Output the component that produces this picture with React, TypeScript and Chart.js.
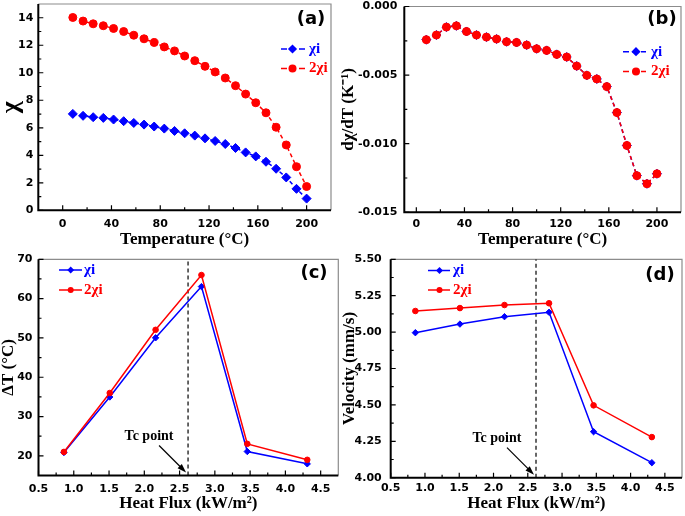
import React, { useEffect, useRef } from "react";
import { Chart, registerables } from "chart.js";

Chart.register(...registerables);

// ---------------- data ----------------
const temperatureC = [8.3, 16.7, 25, 33.3, 41.7, 50, 58.3, 66.7, 75, 83.3, 91.7, 100, 108.3, 116.7, 125, 133.3, 141.7, 150, 158.3, 166.7, 175, 183.3, 191.7, 200];
const chiI = [7.01, 6.87, 6.77, 6.72, 6.6, 6.48, 6.35, 6.23, 6.09, 5.94, 5.77, 5.6, 5.43, 5.23, 5.04, 4.82, 4.53, 4.21, 3.92, 3.53, 3.02, 2.39, 1.56, 0.85];
const chi2I = [14.02, 13.76, 13.56, 13.42, 13.22, 13.0, 12.73, 12.47, 12.2, 11.88, 11.59, 11.22, 10.88, 10.47, 10.06, 9.62, 9.06, 8.45, 7.82, 7.09, 6.04, 4.75, 3.17, 1.73];
const dChiDT = [-0.00242, -0.00208, -0.0015, -0.00141, -0.00182, -0.00208, -0.00223, -0.00237, -0.00257, -0.00262, -0.00281, -0.00308, -0.0032, -0.00349, -0.00368, -0.00434, -0.00502, -0.00528, -0.00584, -0.00773, -0.01013, -0.01233, -0.01292, -0.01219];
const dChi2DT = [-0.00242, -0.00208, -0.0015, -0.00141, -0.00182, -0.00208, -0.00223, -0.00237, -0.00257, -0.00262, -0.00281, -0.00308, -0.0032, -0.00349, -0.00368, -0.00434, -0.00502, -0.00528, -0.00584, -0.00773, -0.01013, -0.01233, -0.01292, -0.01219];

const heatFlux = [0.86, 1.51, 2.16, 2.81, 3.46, 4.31];
const deltaTChi = [20.85, 34.97, 50.03, 63.06, 21.1, 17.97];
const deltaTChi2 = [21.0, 35.99, 52.06, 66.0, 23.05, 18.99];
const velocityChi = [4.996, 5.055, 5.106, 5.136, 4.316, 4.103];
const velocityChi2 = [5.145, 5.165, 5.186, 5.198, 4.497, 4.279];
const tcFlux = 2.62;

const tempTicks = [0, 40, 80, 120, 160, 200];
const chiTicks = [0, 2, 4, 6, 8, 10, 12, 14];
const dChiTicks = [-0.015, -0.01, -0.005, 0];
const fluxTicks = [0.5, 1.0, 1.5, 2.0, 2.5, 3.0, 3.5, 4.0, 4.5];
const deltaTTicks = [20, 30, 40, 50, 60, 70];
const velocityTicks = [4.0, 4.25, 4.5, 4.75, 5.0, 5.25, 5.5];

const seriesLabels = ["χi", "2χi"];

// ---------------- layout ----------------
const OFF = 20;
const CW = 685 + 2 * OFF;
const CH = 516 + 2 * OFF;
const BLUE = "#0000ff";
const RED = "#ff0000";
const SERIF = '"Liberation Serif", "Times New Roman", serif';
const SANS = '"DejaVu Sans", Verdana, sans-serif';

const pts = (xs: number[], ys: number[]) => xs.map((x, i) => ({ x, y: ys[i] }));

function seriesDs(label: string, xs: number[], ys: number[], color: string, style: string, dashed: boolean, r: number, order: number) {
  return {
    label,
    data: pts(xs, ys),
    borderColor: color,
    backgroundColor: color,
    borderWidth: 1.5,
    borderDash: dashed ? [4, 3] : [],
    pointStyle: style,
    pointRadius: r,
    pointBorderWidth: 1,
    pointBorderColor: color,
    pointBackgroundColor: color,
    tension: 0,
    clip: false,
    order,
  };
}

const panels: any[] = [
  {
    id: "a",
    label: "(a)",
    labelPos: [311, 19],
    area: { L: 38.3, R: 331, T: 4, B: 210.3 },
    x: { min: -20, max: 220, ticks: tempTicks, dec: 0, title: "Temperature (°C)", titleCy: 240, titleSize: 17, pad: 7 },
    y: { min: 0, max: 15, ticks: chiTicks, dec: 0, title: "χ", titleCx: 11, titleSize: 26, pad: 5 },
    datasets: [
      seriesDs(seriesLabels[0], temperatureC, chiI, BLUE, "rectRot", true, 4.5, 2),
      seriesDs(seriesLabels[1], temperatureC, chi2I, RED, "circle", true, 4, 1),
    ],
    legend: { x0: 281, x1: 305, xm: 292.5, tx: 309, ys: [49, 68.5], dashed: true, r: 4 },
  },
  {
    id: "b",
    label: "(b)",
    labelPos: [662, 19],
    area: { L: 404.3, R: 681, T: 6.5, B: 212.3 },
    x: { min: -10, max: 220, ticks: tempTicks, dec: 0, title: "Temperature (°C)", titleCy: 240, titleSize: 17, pad: 5.5 },
    y: { min: -0.015, max: 0, ticks: dChiTicks, dec: 3, title: "dχ/dT (K⁻¹)", titleCx: 349, titleSize: 17, pad: 7 },
    datasets: [
      seriesDs(seriesLabels[0], temperatureC, dChiDT, BLUE, "rectRot", true, 4.5, 2),
      seriesDs(seriesLabels[1], temperatureC, dChi2DT, RED, "circle", true, 4, 1),
    ],
    legend: { x0: 623, x1: 646, xm: 636, tx: 651, ys: [51.7, 71.5], dashed: true, r: 4 },
  },
  {
    id: "c",
    label: "(c)",
    labelPos: [314, 273],
    area: { L: 38.5, R: 338.3, T: 259.3, B: 475.5 },
    x: { min: 0.5, max: 4.75, ticks: fluxTicks, dec: 1, title: "Heat Flux (kW/m²)", titleCy: 504, titleSize: 17, pad: 7.5 },
    y: { min: 15, max: 70, ticks: deltaTTicks, dec: 0, title: "ΔT (°C)", titleCx: 9, titleSize: 17, pad: 6 },
    datasets: [
      seriesDs(seriesLabels[0], heatFlux, deltaTChi, BLUE, "rectRot", false, 3.2, 2),
      seriesDs(seriesLabels[1], heatFlux, deltaTChi2, RED, "circle", false, 2.8, 1),
    ],
    legend: { x0: 59, x1: 82, xm: 70.7, tx: 84, ys: [270, 290], dashed: false, r: 3 },
    tc: { yMin: 15, yMax: 70 },
  },
  {
    id: "d",
    label: "(d)",
    labelPos: [660, 275],
    area: { L: 390.7, R: 682, T: 259.3, B: 477.7 },
    x: { min: 0.5, max: 4.75, ticks: fluxTicks, dec: 1, title: "Heat Flux (kW/m²)", titleCy: 504, titleSize: 17, pad: 4 },
    y: { min: 4.0, max: 5.5, ticks: velocityTicks, dec: 2, title: "Velocity (mm/s)", titleCx: 350, titleSize: 17, pad: 9 },
    datasets: [
      seriesDs(seriesLabels[0], heatFlux, velocityChi, BLUE, "rectRot", false, 3.2, 2),
      seriesDs(seriesLabels[1], heatFlux, velocityChi2, RED, "circle", false, 2.8, 1),
    ],
    legend: { x0: 428, x1: 450, xm: 439.5, tx: 453, ys: [270.5, 290], dashed: false, r: 3 },
    tc: { yMin: 4.0, yMax: 5.5 },
  },
];

function minorOf(ticks: number[], min: number, max: number) {
  const step = ticks[1] - ticks[0];
  const out: number[] = [];
  const first = ticks[0] - step / 2;
  if (first > min + 1e-9) out.push(first);
  for (let i = 0; i < ticks.length - 1; i++) out.push((ticks[i] + ticks[i + 1]) / 2);
  const last = ticks[ticks.length - 1] + step / 2;
  if (last < max - 1e-9) out.push(last);
  return out;
}

function drawMarker(ctx: CanvasRenderingContext2D, style: string, x: number, y: number, r: number, color: string) {
  ctx.fillStyle = color;
  ctx.beginPath();
  if (style === "circle") {
    ctx.arc(x, y, r, 0, Math.PI * 2);
  } else {
    const d = r * 1.15;
    ctx.moveTo(x - d, y);
    ctx.lineTo(x, y - d);
    ctx.lineTo(x + d, y);
    ctx.lineTo(x, y + d);
    ctx.closePath();
  }
  ctx.fill();
}

function makePlugin(p: any) {
  return {
    id: "panelDecor",
    beforeDatasetsDraw(chart: any) {
      const { ctx, chartArea: ca } = chart;
      const xs = chart.scales.x;
      const ys = chart.scales.y;
      ctx.save();
      // thin grey top/right frame
      ctx.strokeStyle = "#8c8c8c";
      ctx.lineWidth = 1.2;
      ctx.beginPath();
      ctx.moveTo(ca.left, ca.top);
      ctx.lineTo(ca.right, ca.top);
      ctx.lineTo(ca.right, ca.bottom);
      ctx.stroke();
      // inward ticks
      ctx.strokeStyle = "#000";
      ctx.lineWidth = 1.2;
      ctx.beginPath();
      const xt = (v: number, len: number) => {
        const px = xs.getPixelForValue(v);
        ctx.moveTo(px, ca.bottom);
        ctx.lineTo(px, ca.bottom - len);
      };
      const yt = (v: number, len: number) => {
        const py = ys.getPixelForValue(v);
        ctx.moveTo(ca.left, py);
        ctx.lineTo(ca.left + len, py);
      };
      p.x.ticks.forEach((v: number) => xt(v, 5));
      minorOf(p.x.ticks, p.x.min, p.x.max).forEach((v) => xt(v, 3));
      p.y.ticks.forEach((v: number) => yt(v, 5));
      minorOf(p.y.ticks, p.y.min, p.y.max).forEach((v) => yt(v, 3));
      ctx.stroke();
      // black axes
      ctx.lineWidth = 2;
      ctx.beginPath();
      ctx.moveTo(ca.left, ca.top);
      ctx.lineTo(ca.left, ca.bottom);
      ctx.lineTo(ca.right, ca.bottom);
      ctx.stroke();
      ctx.restore();
    },
    afterDraw(chart: any) {
      const { ctx, chartArea: ca } = chart;
      const xs = chart.scales.x;
      ctx.save();
      // panel label
      ctx.fillStyle = "#000";
      ctx.font = `bold 18px ${SANS}`;
      ctx.textAlign = "center";
      ctx.textBaseline = "middle";
      ctx.fillText(p.label, p.labelPos[0] + OFF, p.labelPos[1] + OFF);
      // legend
      const lg = p.legend;
      p.datasets.forEach((ds: any, i: number) => {
        const y = lg.ys[i] + OFF;
        ctx.strokeStyle = ds.borderColor;
        ctx.lineWidth = 1.5;
        ctx.setLineDash(lg.dashed ? [6, 3] : []);
        ctx.beginPath();
        ctx.moveTo(lg.x0 + OFF, y);
        ctx.lineTo(lg.x1 + OFF, y);
        ctx.stroke();
        ctx.setLineDash([]);
        drawMarker(ctx, ds.pointStyle, lg.xm + OFF, y, lg.r, ds.borderColor);
        ctx.fillStyle = ds.borderColor;
        ctx.font = `bold 15px ${SERIF}`;
        ctx.textAlign = "left";
        ctx.textBaseline = "middle";
        ctx.fillText(ds.label, lg.tx + OFF, y);
      });
      // Tc annotation
      if (p.tc) {
        const ex = xs.getPixelForValue(tcFlux) - 2;
        const ey = ca.bottom - 3;
        const sx = ex - 27;
        const sy = ey - 27;
        ctx.strokeStyle = "#000";
        ctx.fillStyle = "#000";
        ctx.lineWidth = 1.2;
        ctx.beginPath();
        ctx.moveTo(sx, sy);
        ctx.lineTo(ex - 4, ey - 4);
        ctx.stroke();
        const ang = Math.atan2(ey - sy, ex - sx);
        ctx.beginPath();
        ctx.moveTo(ex, ey);
        ctx.lineTo(ex - 9 * Math.cos(ang) + 3 * Math.sin(ang), ey - 9 * Math.sin(ang) - 3 * Math.cos(ang));
        ctx.lineTo(ex - 9 * Math.cos(ang) - 3 * Math.sin(ang), ey - 9 * Math.sin(ang) + 3 * Math.cos(ang));
        ctx.closePath();
        ctx.fill();
        ctx.font = `bold 14px ${SERIF}`;
        ctx.textAlign = "center";
        ctx.textBaseline = "middle";
        ctx.fillText("Tc point", ex - 37, ey - 36);
      }
      ctx.restore();
    },
  };
}

function buildConfig(p: any) {
  const scaleLeft = p.y.titleCx - p.y.titleSize / 2;
  const yW = p.area.L - scaleLeft;
  const scaleBottom = p.x.titleCy + p.x.titleSize / 2;
  const xH = scaleBottom - p.area.B;
  const tickFont = { family: SANS, size: 11, weight: "bold" as const };
  const datasets: any[] = [...p.datasets];
  if (p.tc) {
    datasets.push({
      label: "Tc",
      data: [
        { x: tcFlux, y: p.tc.yMin },
        { x: tcFlux, y: p.tc.yMax },
      ],
      borderColor: "#000",
      borderWidth: 1.2,
      borderDash: [4, 3],
      pointRadius: 0,
      order: 3,
    });
  }
  return {
    type: "line" as const,
    data: { datasets },
    options: {
      responsive: false,
      animation: false,
      devicePixelRatio: 1,
      events: [],
      layout: {
        padding: {
          left: OFF + scaleLeft,
          top: OFF + p.area.T,
          right: CW - OFF - p.area.R,
          bottom: CH - OFF - scaleBottom,
        },
      },
      plugins: { legend: { display: false }, tooltip: { enabled: false } },
      scales: {
        x: {
          type: "linear",
          position: "bottom",
          min: p.x.min,
          max: p.x.max,
          afterBuildTicks: (s: any) => {
            s.ticks = p.x.ticks.map((v: number) => ({ value: v }));
          },
          afterFit: (s: any) => {
            s.height = xH;
          },
          ticks: {
            callback: (v: any) => Number(v).toFixed(p.x.dec),
            font: tickFont,
            color: "#000",
            padding: p.x.pad,
            maxRotation: 0,
            autoSkip: false,
          },
          grid: { display: false, drawTicks: false },
          border: { display: false },
          title: {
            display: true,
            text: p.x.title,
            color: "#000",
            padding: 0,
            font: { family: SERIF, size: p.x.titleSize, weight: "bold" as const, lineHeight: 1 },
          },
        },
        y: {
          type: "linear",
          position: "left",
          min: p.y.min,
          max: p.y.max,
          afterBuildTicks: (s: any) => {
            s.ticks = p.y.ticks.map((v: number) => ({ value: v }));
          },
          afterFit: (s: any) => {
            s.width = yW;
          },
          ticks: {
            callback: (v: any) => Number(v).toFixed(p.y.dec),
            font: tickFont,
            color: "#000",
            padding: p.y.pad,
            autoSkip: false,
          },
          grid: { display: false, drawTicks: false },
          border: { display: false },
          title: {
            display: true,
            text: p.y.title,
            color: "#000",
            padding: 0,
            font: { family: SERIF, size: p.y.titleSize, weight: "bold" as const, lineHeight: 1 },
          },
        },
      },
    },
    plugins: [makePlugin(p)],
  };
}

function PanelChart({ spec }: { spec: any }) {
  const ref = useRef<HTMLCanvasElement>(null);
  useEffect(() => {
    const chart = new Chart(ref.current as HTMLCanvasElement, buildConfig(spec) as any);
    return () => chart.destroy();
  }, [spec]);
  return (
    <canvas
      ref={ref}
      width={CW}
      height={CH}
      style={{ position: "absolute", left: -OFF, top: -OFF, width: CW, height: CH }}
    />
  );
}

export default function App() {
  return (
    <div
      style={{
        position: "fixed",
        left: 0,
        top: 0,
        width: 685,
        height: 516,
        overflow: "hidden",
        background: "#fff",
      }}
    >
      {panels.map((p) => (
        <PanelChart key={p.id} spec={p} />
      ))}
    </div>
  );
}
